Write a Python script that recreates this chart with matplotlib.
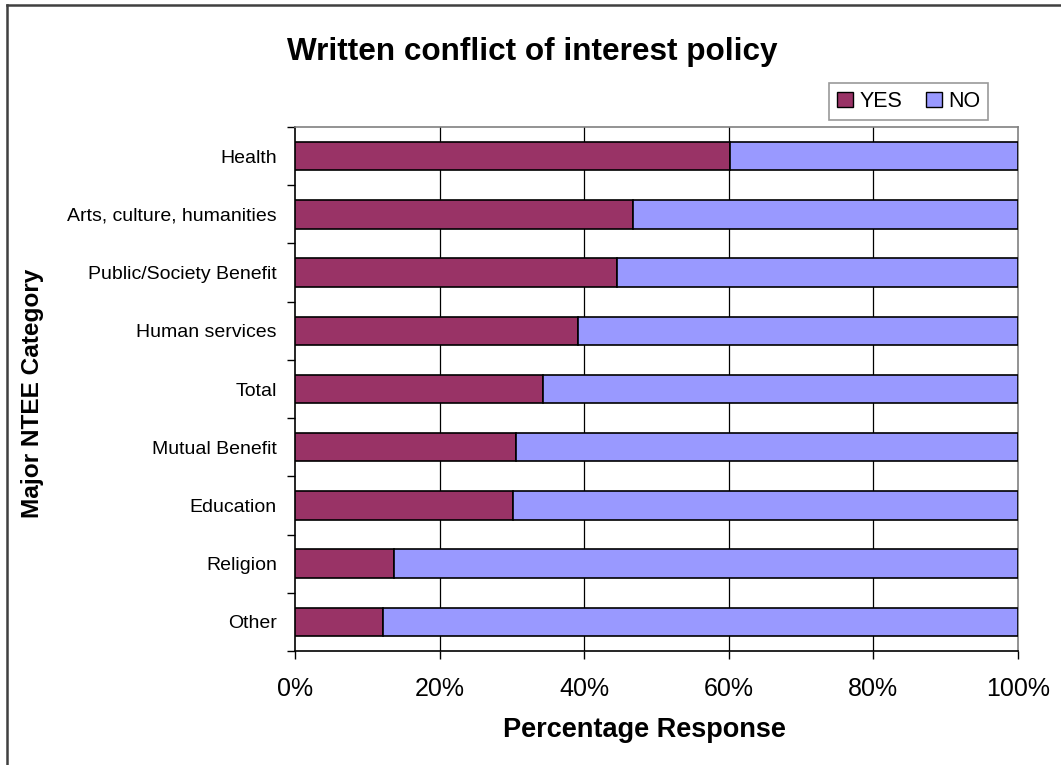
import matplotlib
matplotlib.use("Agg")
import matplotlib.pyplot as plt
from matplotlib.patches import Patch
from matplotlib.lines import Line2D
from matplotlib.ticker import FixedLocator, FuncFormatter

plt.rcParams['font.family'] = ['Liberation Sans', 'DejaVu Sans']

categories = ["Health", "Arts, culture, humanities", "Public/Society Benefit",
              "Human services", "Total", "Mutual Benefit", "Education",
              "Religion", "Other"]
yes_pct = [60.2, 46.8, 44.6, 39.2, 34.3, 30.6, 30.2, 13.7, 12.2]
no_pct = [39.8, 53.2, 55.4, 60.8, 65.7, 69.4, 69.8, 86.3, 87.8]
x_ticks = [0, 20, 40, 60, 80, 100]

YES_COLOR = "#993366"
NO_COLOR = "#9999FF"

W, H = 1061, 765
fig = plt.figure(figsize=(W / 100, H / 100), dpi=100)
fig.patch.set_facecolor("white")

left, right, top, bottom = 295, 1018, 127, 651
ax = fig.add_axes([left / W, 1 - bottom / H, (right - left) / W, (bottom - top) / H])

pos = list(range(len(categories)))
ax.barh(pos, yes_pct, height=0.49, color=YES_COLOR, edgecolor="black", linewidth=1.2, zorder=3)
ax.barh(pos, no_pct, left=yes_pct, height=0.49, color=NO_COLOR, edgecolor="black", linewidth=1.2, zorder=3)

ax.set_xlim(0, 100)
ax.set_ylim(len(categories) - 0.5, -0.5)

# vertical gridlines
for v in x_ticks[1:-1]:
    ax.axvline(v, color="black", linewidth=0.9, zorder=1)

# y axis: labels at centers, tick marks at category boundaries
ax.set_yticks(pos)
ax.set_yticklabels(categories, fontsize=14)
ax.yaxis.set_minor_locator(FixedLocator([p - 0.5 for p in pos] + [len(pos) - 0.5]))
ax.tick_params(axis="y", which="major", length=0, pad=13)
ax.tick_params(axis="y", which="minor", length=5.5, width=1, direction="out", color="black")

ax.set_xticks(x_ticks)
ax.xaxis.set_major_formatter(FuncFormatter(lambda v, p: f"{int(v)}%"))
ax.tick_params(axis="x", which="major", length=6, width=1, direction="out",
               labelsize=18, pad=13, color="black")

for s in ("left", "bottom"):
    ax.spines[s].set_color("black")
    ax.spines[s].set_linewidth(1.2)
for s in ("top", "right"):
    ax.spines[s].set_color("#808080")
    ax.spines[s].set_linewidth(1.2)

# titles and axis labels
fig.text(532 / W, 1 - 52 / H, "Written conflict of interest policy",
         fontsize=22.7, fontweight="bold", ha="center", va="center")
fig.text(644 / W, 1 - 730 / H, "Percentage Response",
         fontsize=19.5, fontweight="bold", ha="center", va="center")
fig.text(33 / W, 1 - 393 / H, "Major NTEE Category",
         fontsize=17.6, fontweight="bold", ha="center", va="center", rotation=90)

# legend
handles = [Patch(facecolor=YES_COLOR, edgecolor="black", linewidth=1, label="YES"),
           Patch(facecolor=NO_COLOR, edgecolor="black", linewidth=1, label="NO")]
leg = fig.legend(handles=handles, loc="center", bbox_to_anchor=(908.5 / W, 1 - 101.5 / H),
                 ncol=2, fontsize=15.5, frameon=True, fancybox=False,
                 handlelength=0.75, handleheight=0.75, handletextpad=0.3,
                 columnspacing=1.1, borderpad=0.35, borderaxespad=0)
leg.get_frame().set_edgecolor("#808080")
leg.get_frame().set_linewidth(1.2)

# outer frame (left and top edges)
fig.add_artist(Line2D([7 / W, 7 / W], [0, 1 - 5 / H], transform=fig.transFigure,
                      color="#404040", linewidth=1.8))
fig.add_artist(Line2D([7 / W, 1], [1 - 5 / H, 1 - 5 / H], transform=fig.transFigure,
                      color="#404040", linewidth=1.8))

fig.savefig("out.png", dpi=100, facecolor="white")
